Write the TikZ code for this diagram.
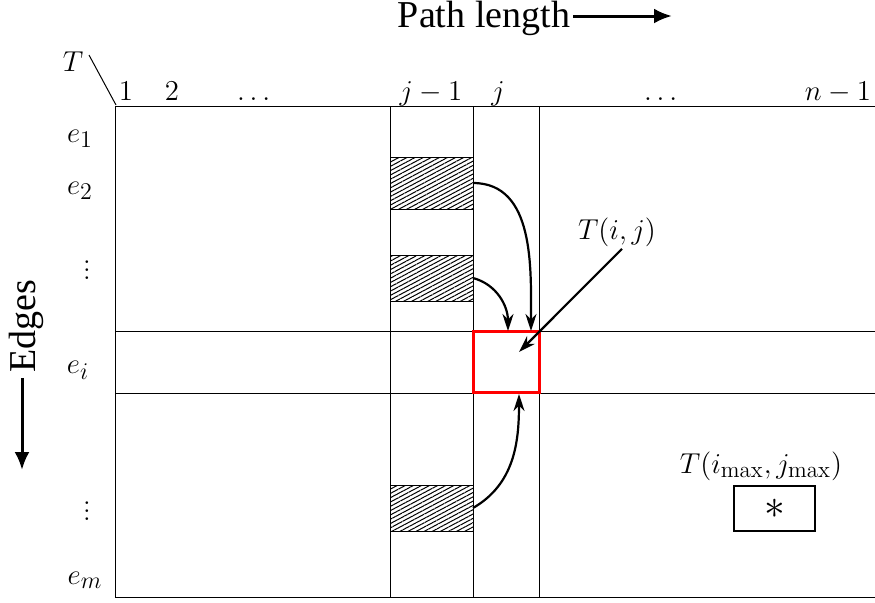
\documentclass[tikz,border=0pt]{standalone}
\usepackage{amsmath,amssymb}
\usepackage{fontspec}
\newfontfamily\timesfont{Liberation Serif}
\usetikzlibrary{positioning,arrows.meta,patterns.meta}
\DeclareMathSizes{14}{14}{11.5}{9}

\tikzset{
  gridline/.style={line width=0.5pt},
  hatchbox/.style={draw,line width=0.5pt,inner sep=0pt,outer sep=0pt,anchor=north west,
    minimum width=41.5pt,pattern={Lines[angle=28,distance=1.9pt,line width=0.5pt]}},
  cellbox/.style={draw=red,line width=1.5pt,inner sep=0pt,outer sep=0pt,anchor=north west,
    minimum width=33pt,minimum height=30.5pt},
  curarr/.style={-{Stealth[length=8.5pt,width=5.5pt]},line width=1.1pt},
  bigarr/.style={-{Latex[length=9pt,width=7.5pt]},line width=1.5pt},
  lbl/.style={font=\fontsize{14}{16}\selectfont,inner sep=0pt},
  axlbl/.style={font=\timesfont\fontsize{19}{22}\selectfont,inner sep=1.5pt},
}

\begin{document}
\begin{tikzpicture}[x=0.5pt,y=-0.5pt]
\useasboundingbox (0,0) rectangle (875,602);

% table frame and rows/columns
\draw[gridline] (875,106) -- (115,106) -- (115,597) -- (875,597);
\draw[gridline] (115,331) -- (875,331);
\draw[gridline] (115,393) -- (875,393);
\foreach \cx in {390,473,539}
  \draw[gridline] (\cx,106) -- (\cx,597);
\draw[gridline] (89,55) -- (116,105);

% corner and headers
\node[lbl] (tcorner) at (73,62) {$T$};
\node[lbl,anchor=base] (c1) at (126,100) {$1$};
\node[lbl,anchor=base] (c2) at (172,100) {$2$};
\node[lbl,anchor=base] (cdotsa) at (256,100) {$\dots$};
\node[lbl,anchor=base] (cjm) at (431,100) {$j-1$};
\node[lbl,anchor=base] (cj) at (498,100) {$j$};
\node[lbl,anchor=base] (cdotsb) at (663,100) {$\dots$};
\node[lbl,anchor=base] (cn) at (838,100) {$n-1$};

\node[lbl] (e1) at (80,139) {$e_1$};
\node[lbl] (e2) at (80,191) {$e_2$};
\node[lbl] (vdotsa) at (87,264) {$\vdots$};
\node[lbl] (ei) at (78,370) {$e_i$};
\node[lbl] (vdotsb) at (87,505) {$\vdots$};
\node[lbl] (em) at (85,580) {$e_m$};

% hatched cells of column j-1
\node[hatchbox,minimum height=26pt] (h1) at (390,157) {};
\node[hatchbox,minimum height=23pt] (h2) at (390,255) {};
\node[hatchbox,minimum height=23pt] (h3) at (390,485) {};

% current cell
\node[cellbox] (tij) at (473,331) {};
\coordinate (in1) at (531,331);
\coordinate (in2) at (508,331);
\coordinate (in3) at (519,394);
\coordinate (tgt) at (519,352);

\draw[curarr] (h1.east) to[out=0,in=90] (in1);
\draw[curarr] (h2.east) to[out=-15,in=90] (in2);
\draw[curarr] (h3.east) to[out=30,in=-90] (in3);

\node[lbl] (tlbl) at (617,232) {$T(i,j)$};
\draw[curarr] ([xshift=2.5pt,yshift=-1pt]tlbl.south) -- (tgt);

% maximum
\node[lbl] (tmaxlbl) at (761,466) {$T(i_{\max},j_{\max})$};
\node[draw,line width=1pt,minimum width=40.5pt,minimum height=22.5pt,inner sep=0pt,
  font=\fontsize{22}{24}\selectfont] (tmax) at (774.5,508.5) {$\ast$};

% axis labels
\node[axlbl] (plen) at (484,18) {Path length};
\coordinate (plenend) at (672,16);
\draw[bigarr] (plen.east |- plenend) -- (plenend);

\node[axlbl,rotate=90] (edg) at (26,326) {Edges};
\coordinate (edgend) at (22,470);
\draw[bigarr] ([yshift=-1pt]edg.west -| edgend) -- (edgend);
\end{tikzpicture}
\end{document}
